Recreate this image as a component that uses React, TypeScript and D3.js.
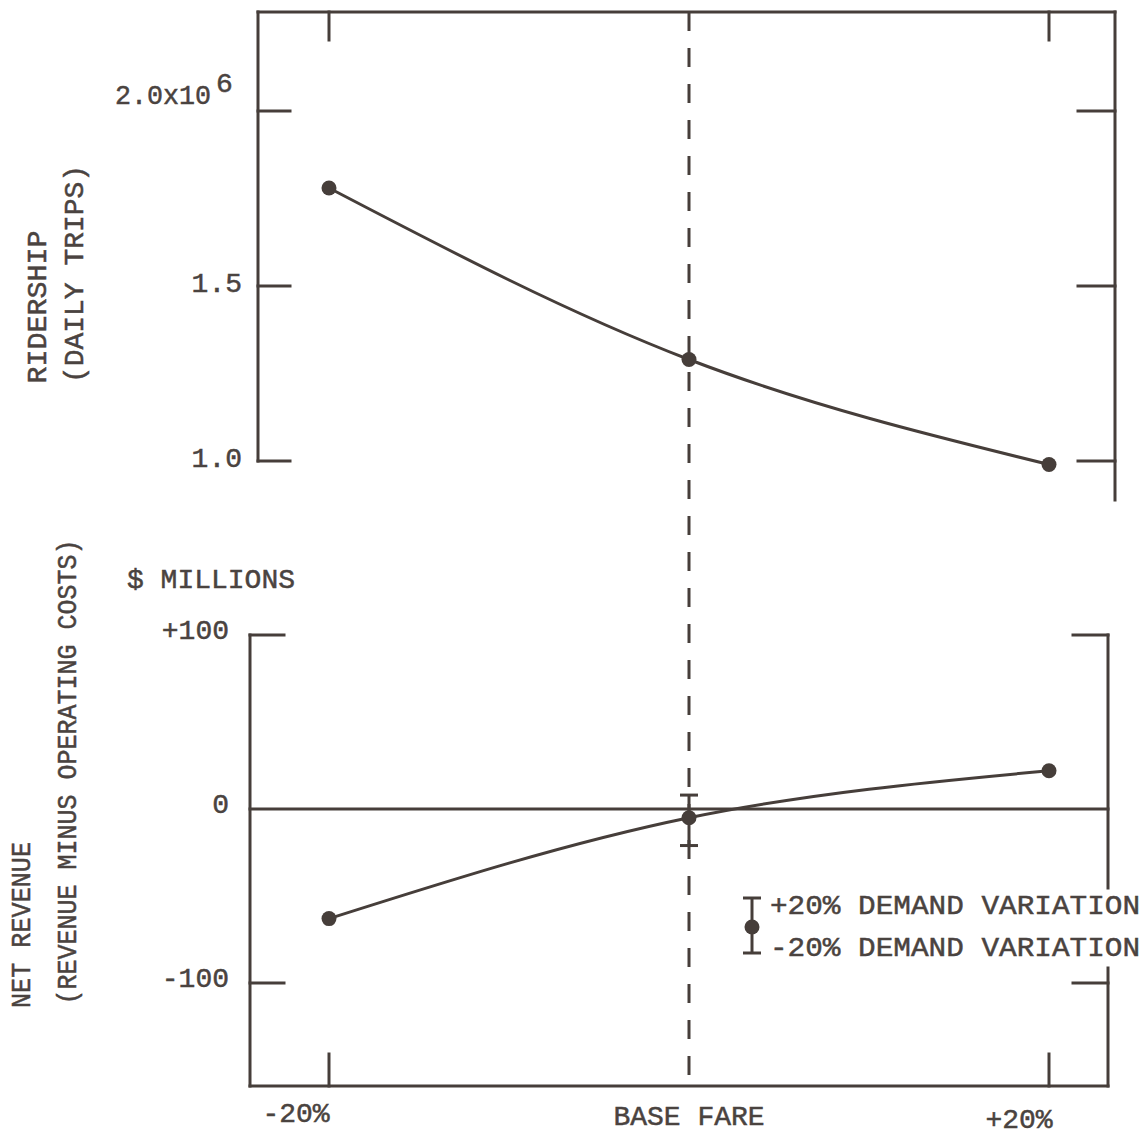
import React from 'react';
import * as d3 from 'd3';

// fare change vs base fare (percent)
const fareChange = [-20, 0, 20];
const fareLabels = ['-20%', 'BASE FARE', '+20%'];

// ridership, millions of daily trips
const ridership = [1.78, 1.29, 0.99];
const ridershipTicks = [1.0, 1.5, 2.0];

// net revenue, $ millions
const netRevenue = [-63, -5, 22];
const revenueTicks = [-100, 0, 100];
// +/-20% demand variation at base fare
const demandBand = [{ fare: 0, low: -21, high: 8 }];

const ink = '#463e3a';
const textInk = '#4a4340';
const font = '"Liberation Mono", "DejaVu Sans Mono", monospace';

const width = 1146;
const height = 1135;

// top panel frame
const top = { left: 258, right: 1115, top: 12, bottom: 500 };
// bottom panel frame
const bot = { left: 250, right: 1108, bottom: 1086 };

const xScale = d3.scaleLinear().domain([-20, 20]).range([329, 1049]);
const yRiders = d3.scaleLinear().domain([1.0, 2.0]).range([461, 111]);
const yRevenue = d3.scaleLinear().domain([-100, 100]).range([983, 635]);

const riderLine = d3.line<number>()
  .x((d, i) => xScale(fareChange[i]))
  .y(d => yRiders(d))
  .curve(d3.curveMonotoneX);

const revenueLine = d3.line<number>()
  .x((d, i) => xScale(fareChange[i]))
  .y(d => yRevenue(d))
  .curve(d3.curveMonotoneX);

const Label = ({ x, y, children, anchor = 'start', len, rotate = false, size = 28 }: any) => (
  <text
    transform={rotate ? `translate(${x},${y}) rotate(-90)` : `translate(${x},${y})`}
    textAnchor={anchor}
    dominantBaseline="central"
    fontFamily={font}
    fontSize={size}
    fill={textInk}
    stroke={textInk}
    strokeWidth={0.5}
    textLength={len}
    lengthAdjust={len ? 'spacingAndGlyphs' : undefined}
  >
    {children}
  </text>
);

export default function App() {
  const riderTickLabel = (v: number) => (v === 2.0 ? null : v.toFixed(1));
  const revTickLabel = (v: number) => (v > 0 ? `+${v}` : `${v}`);
  const yZero = yRevenue(0);

  return (
    <svg width={width} height={height} style={{ position: 'absolute', left: 0, top: 0, background: '#fff' }}>
      <g stroke={ink} strokeWidth={3} fill="none" strokeLinecap="square">
        {/* top panel frame */}
        <line x1={top.left} y1={top.top} x2={top.right} y2={top.top} />
        <line x1={top.left} y1={top.top} x2={top.left} y2={yRiders(1.0)} />
        <line x1={top.right} y1={top.top} x2={top.right} y2={top.bottom} />
        {ridershipTicks.map(t => (
          <g key={t}>
            <line x1={top.left} y1={yRiders(t)} x2={top.left + 32} y2={yRiders(t)} />
            <line x1={top.right - 37} y1={yRiders(t)} x2={top.right} y2={yRiders(t)} />
          </g>
        ))}
        {[-20, 20].map(f => (
          <line key={f} x1={xScale(f)} y1={top.top} x2={xScale(f)} y2={top.top + 28} />
        ))}

        {/* bottom panel frame */}
        <line x1={bot.left} y1={yRevenue(100)} x2={bot.left} y2={bot.bottom} />
        <line x1={bot.left} y1={bot.bottom} x2={bot.right} y2={bot.bottom} />
        <line x1={bot.right} y1={yRevenue(100)} x2={bot.right} y2={888} />
        <line x1={bot.right} y1={968} x2={bot.right} y2={bot.bottom} />
        <line x1={bot.left} y1={yZero} x2={bot.right} y2={yZero} />
        {revenueTicks.filter(t => t !== 0).map(t => (
          <g key={t}>
            <line x1={bot.left} y1={yRevenue(t)} x2={bot.left + 34} y2={yRevenue(t)} />
            <line x1={bot.right - 35} y1={yRevenue(t)} x2={bot.right} y2={yRevenue(t)} />
          </g>
        ))}
        {[-20, 20].map(f => (
          <line key={f} x1={xScale(f)} y1={bot.bottom} x2={xScale(f)} y2={bot.bottom - 32} />
        ))}
      </g>

      {/* base fare reference */}
      <line
        x1={xScale(0)} y1={top.top} x2={xScale(0)} y2={bot.bottom}
        stroke={ink} strokeWidth={3} strokeDasharray="19 17"
      />

      {/* ridership curve */}
      <path d={riderLine(ridership) || ''} fill="none" stroke={ink} strokeWidth={3} />
      {ridership.map((d, i) => (
        <circle key={i} cx={xScale(fareChange[i])} cy={yRiders(d)} r={7.5} fill={ink} />
      ))}

      {/* net revenue curve */}
      <path d={revenueLine(netRevenue) || ''} fill="none" stroke={ink} strokeWidth={3} />
      {demandBand.map(b => (
        <g key={b.fare} stroke={ink} strokeWidth={3}>
          <line x1={xScale(b.fare)} y1={yRevenue(b.high)} x2={xScale(b.fare)} y2={yRevenue(b.low)} />
          <line x1={xScale(b.fare) - 9} y1={yRevenue(b.high)} x2={xScale(b.fare) + 9} y2={yRevenue(b.high)} />
          <line x1={xScale(b.fare) - 9} y1={yRevenue(b.low)} x2={xScale(b.fare) + 9} y2={yRevenue(b.low)} />
        </g>
      ))}
      {netRevenue.map((d, i) => (
        <circle key={i} cx={xScale(fareChange[i])} cy={yRevenue(d)} r={7.5} fill={ink} />
      ))}

      {/* legend */}
      <g stroke={ink} strokeWidth={3}>
        <line x1={752} y1={898} x2={752} y2={953} />
        <line x1={743} y1={898} x2={761} y2={898} />
        <line x1={743} y1={953} x2={761} y2={953} />
      </g>
      <circle cx={752} cy={927} r={7.5} fill={ink} />
      <Label x={770} y={906} len={370}>+20% DEMAND VARIATION</Label>
      <Label x={770} y={948} len={370}>-20% DEMAND VARIATION</Label>

      {/* ridership axis labels */}
      {ridershipTicks.map(t =>
        riderTickLabel(t) ? (
          <Label key={t} x={242} y={yRiders(t) - 2} anchor="end">{riderTickLabel(t)}</Label>
        ) : null
      )}
      <Label x={115} y={96} len={96}>2.0x10</Label>
      <Label x={216} y={84}>6</Label>
      <Label x={38} y={307} rotate anchor="middle" len={153}>RIDERSHIP</Label>
      <Label x={75} y={274} rotate anchor="middle" len={218}>(DAILY TRIPS)</Label>

      {/* revenue axis labels */}
      <Label x={127} y={580} len={168}>$ MILLIONS</Label>
      {revenueTicks.map(t => (
        <Label key={t} x={229} y={yRevenue(t) - 4} anchor="end">{revTickLabel(t)}</Label>
      ))}
      <Label x={22} y={925} rotate anchor="middle" len={166}>NET REVENUE</Label>
      <Label x={68} y={772} rotate anchor="middle" len={465}>(REVENUE MINUS OPERATING COSTS)</Label>

      {/* fare axis labels */}
      {fareChange.map((f, i) => (
        <Label key={f} x={xScale(f) + (f < 0 ? -33 : f > 0 ? -30 : 0)} y={1114 + i * 3} anchor="middle">
          {fareLabels[i]}
        </Label>
      ))}
    </svg>
  );
}
